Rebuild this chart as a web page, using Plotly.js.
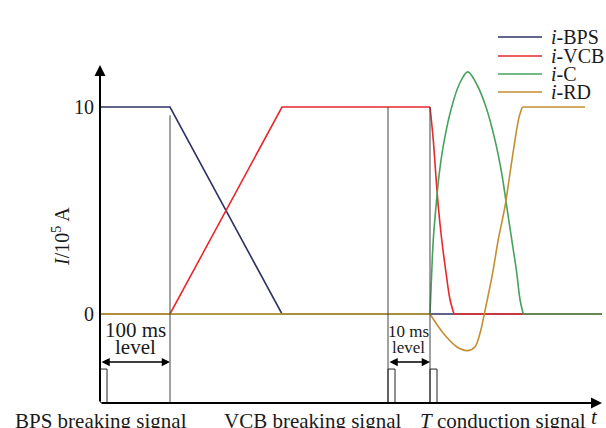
<!DOCTYPE html>
<html>
<head>
<meta charset="utf-8">
<script src="https://cdn.plot.ly/plotly-3.0.1.min.js"></script>
<style>html,body{margin:0;padding:0;background:#fff;}#chart{width:606px;height:428px;}</style>
</head>
<body>
<div id="chart"></div>
<script>
// ---- data (time in arbitrary units, current in 10^5 A) ----
const tBPS = [0, 70, 182, 502];
const iBPS = [10, 10, 0, 0];
const tVCB = [0, 70, 182, 330, 333.3, 335.7, 338.3, 341.7, 346, 350, 354, 502];
const iVCB = [0, 0, 10, 10, 8.4, 6.8, 5.2, 3.6, 2.0, 0.7, 0, 0];
const tC = [0, 330, 331.7, 333.3, 336, 339.3, 344.3, 351.7, 359.3, 367.7, 376.7, 386, 395, 401.7, 406.7, 411.7, 416.7, 420, 423.3, 502];
const iC = [0, 0, 2.0, 3.6, 5.2, 6.8, 8.4, 10, 11.1, 11.7, 11.1, 10, 8.4, 6.8, 5.2, 3.6, 2.0, 0.7, 0, 0];
const tRD = [0, 330, 343.3, 356.7, 367.7, 375, 380, 384.3, 392.7, 398.3, 405, 410, 415, 419, 422.3, 485];
const iRD = [0, 0, -0.93, -1.58, -1.77, -1.58, -0.93, 0, 2.0, 3.6, 5.2, 6.8, 8.4, 9.5, 10, 10];
const seriesNames = ['i-BPS', 'i-VCB', 'i-C', 'i-RD'];
const seriesLabels = ['<i>i</i>-BPS', '<i>i</i>-VCB', '<i>i</i>-C', '<i>i</i>-RD'];
const colors = ['#2e3262', '#e8282b', '#45a35c', '#c48f31'];
const signalTimes = [0, 288, 330];      // breaking / conduction signal instants
const markerTimes = [70, 288, 330];     // vertical guide lines
const markerTops = [9.6, 10, 10];
const signalNames = ['BPS breaking signal', 'VCB breaking signal', '<i>T</i> conduction signal'];
const yTickVals = [0, 10];
const yTickText = ['0', '10'];

// ---- geometry ----
const W = 606, H = 428;
const M = {l: 100, r: 4, t: 65, b: 25};
const X0 = 0, X1 = 502, Y0 = -4.3, Y1 = 12.03;
const FONT = 'Liberation Serif, Times New Roman, serif';
const pyToPaper = py => (H - M.b - py) / (H - M.t - M.b);
const pxToPaper = px => (px - M.l) / (W - M.l - M.r);

// smooth (curved) index ranges of each series
const curved = [null, [3, 10], [1, 18], [1, 14]];
const traceData = [[tBPS, iBPS], [tVCB, iVCB], [tC, iC], [tRD, iRD]];
const traces = [];
traceData.forEach((d, k) => {
  const [t, v] = d;
  const c = curved[k];
  if (!c) {
    traces.push({x: t, y: v, name: seriesNames[k], type: 'scatter', mode: 'lines',
      line: {color: colors[k], width: 1.6}, showlegend: false, hoverinfo: 'skip'});
    return;
  }
  const xs = t.slice(0, c[0] + 1).concat([null], t.slice(c[1]));
  const ys = v.slice(0, c[0] + 1).concat([null], v.slice(c[1]));
  traces.push({x: xs, y: ys, name: seriesNames[k], type: 'scatter', mode: 'lines', connectgaps: false,
    line: {color: colors[k], width: 1.6}, showlegend: false, hoverinfo: 'skip'});
  traces.push({x: t.slice(c[0], c[1] + 1), y: v.slice(c[0], c[1] + 1), name: seriesNames[k],
    type: 'scatter', mode: 'lines', line: {color: colors[k], width: 1.6, shape: 'spline', smoothing: 1},
    showlegend: false, hoverinfo: 'skip'});
});

const shapes = [];
const annotations = [];
const pulseW = 7, pulseTop = -2.66;
markerTimes.forEach((t, k) => {
  shapes.push({type: 'line', xref: 'x', yref: 'y', x0: t, x1: t, y0: markerTops[k], y1: Y0,
    line: {color: '#444', width: 1}});
});
signalTimes.forEach(t => {
  shapes.push({type: 'rect', xref: 'x', yref: 'y', x0: t, x1: t + pulseW, y0: Y0, y1: pulseTop,
    line: {color: '#222', width: 1}, fillcolor: 'rgba(0,0,0,0)'});
});

// axes with arrows
annotations.push({x: 0, y: Y1, ax: 0, ay: Y0, xref: 'x', yref: 'y', axref: 'x', ayref: 'y',
  text: '', showarrow: true, arrowhead: 2, arrowsize: 1.1, arrowwidth: 2, arrowcolor: '#000'});
annotations.push({x: X1, y: Y0, ax: 0, ay: Y0, xref: 'x', yref: 'y', axref: 'x', ayref: 'y',
  text: '', showarrow: true, arrowhead: 2, arrowsize: 1.1, arrowwidth: 2, arrowcolor: '#000'});

// interval arrows
const intervals = [[0, 70], [288, 330]];
intervals.forEach(iv => {
  annotations.push({x: iv[1], y: -2.32, ax: iv[0], ay: -2.32, xref: 'x', yref: 'y', axref: 'x', ayref: 'y',
    text: '', showarrow: true, arrowhead: 2, startarrowhead: 2, arrowside: 'end+start',
    arrowsize: 1.1, startarrowsize: 1.1, arrowwidth: 1.5, arrowcolor: '#000'});
});
const txt = (text, x, y, size, anchor) => ({text, x: pxToPaper(x), y: pyToPaper(y), xref: 'paper', yref: 'paper',
  showarrow: false, xanchor: anchor || 'center', yanchor: 'middle',
  font: {family: FONT, size, color: '#1a1a1a'}});
annotations.push(txt('100 ms', 135, 330, 21));
annotations.push(txt('level', 135, 347, 21));
annotations.push(txt('10 ms', 408, 331, 17));
annotations.push(txt('level', 408, 347, 17));

// bottom signal labels
const signalLabelPx = [13, 222, 418];
signalNames.forEach((s, k) => {
  annotations.push(txt(s, signalLabelPx[k], 421, 21, 'left'));
});
annotations.push(txt('<i>t</i>', 594, 417, 21));

// y title
annotations.push({text: '<i>I</i>/10<sup>5</sup> A', x: pxToPaper(61), y: pyToPaper(237),
  xref: 'paper', yref: 'paper', showarrow: false, textangle: -90, xanchor: 'center', yanchor: 'middle',
  font: {family: FONT, size: 20, color: '#1a1a1a'}});

// legend
const legY = [37, 56, 74, 92];
seriesLabels.forEach((s, k) => {
  shapes.push({type: 'line', xref: 'paper', yref: 'paper', x0: pxToPaper(498), x1: pxToPaper(542),
    y0: pyToPaper(legY[k]), y1: pyToPaper(legY[k]), line: {color: colors[k], width: 1.6}});
  annotations.push(txt(s, 549, legY[k], 20, 'left'));
});

const layout = {
  width: W, height: H, margin: M, paper_bgcolor: '#fff', plot_bgcolor: '#fff',
  showlegend: false,
  xaxis: {range: [X0, X1], showgrid: false, zeroline: false, showline: false, showticklabels: false, ticks: ''},
  yaxis: {range: [Y0, Y1], showgrid: false, zeroline: false, showline: false, ticks: '',
    tickvals: yTickVals, ticktext: yTickText, ticklabelstandoff: 5,
    tickfont: {family: FONT, size: 20, color: '#1a1a1a'}},
  shapes, annotations
};
Plotly.newPlot('chart', traces, layout, {displayModeBar: false, staticPlot: true});
</script>
</body>
</html>
